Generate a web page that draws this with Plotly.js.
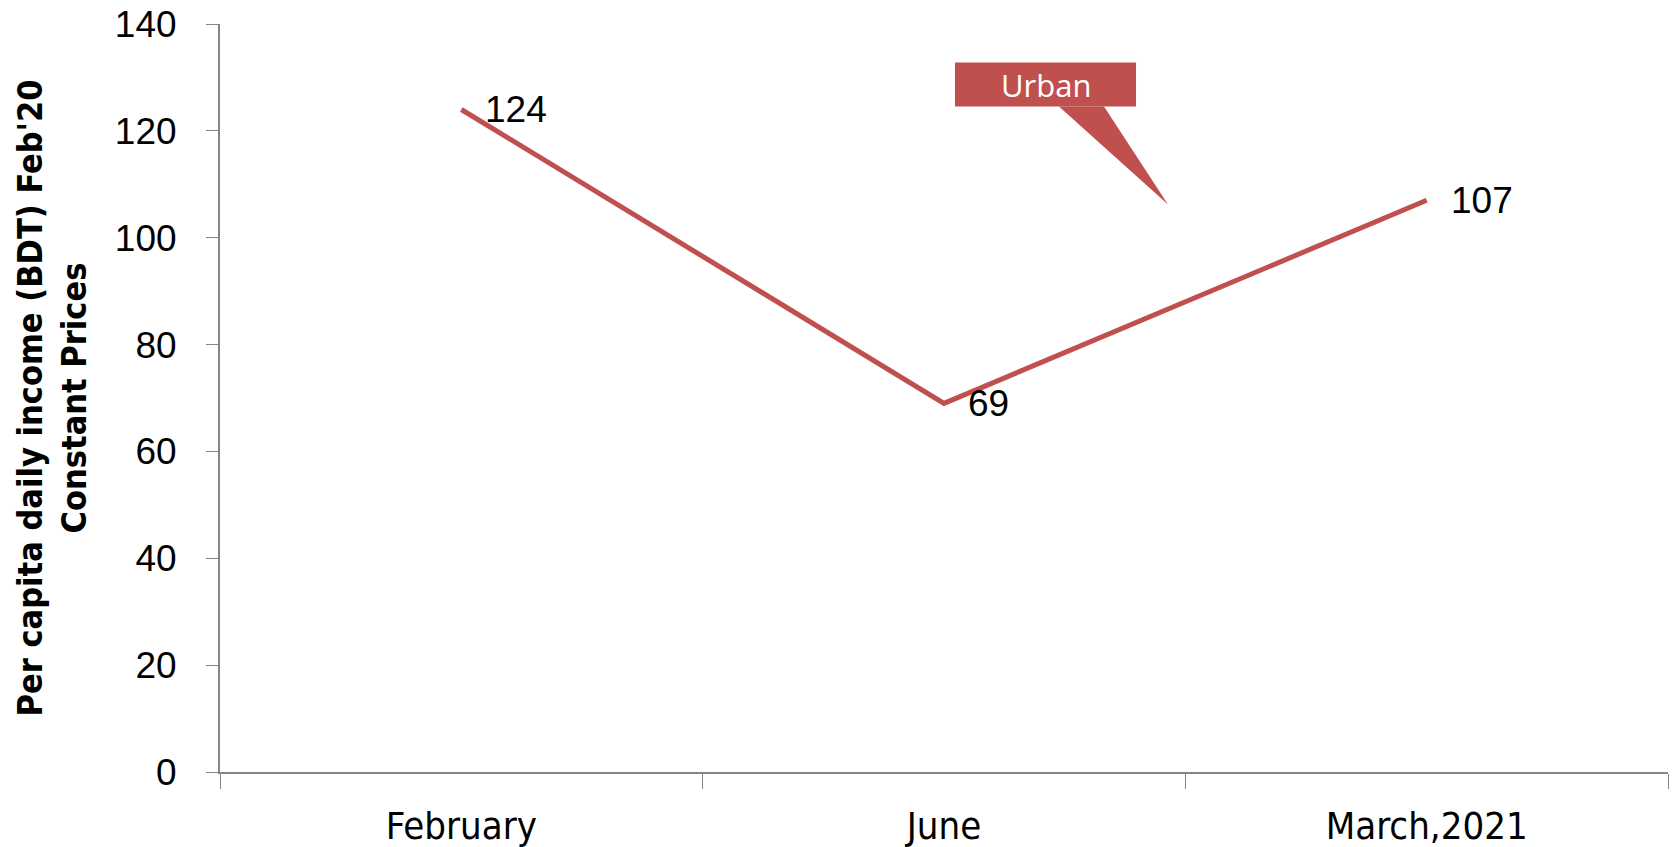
<!DOCTYPE html>
<html>
<head>
<meta charset="utf-8">
<script src="https://cdn.plot.ly/plotly-3.0.1.min.js"></script>
<style>html,body{margin:0;padding:0;background:#fff;}#chart{width:1673px;height:847px;}</style>
</head>
<body>
<div id="chart"></div>
<script>
const categories = ["February", "June", "March,2021"];
const urbanValues = [124, 69, 107];
const valueLabels = ["124", "69", "107"];
const yTicks = [0, 20, 40, 60, 80, 100, 120, 140];
const seriesName = "Urban";

const lineColor = "#C0504D";
const axisColor = "#868686";
const condensed = "DejaVu Sans Condensed, Liberation Sans Narrow, sans-serif";

const trace = {
  x: categories,
  y: urbanValues,
  type: "scatter",
  mode: "lines",
  name: seriesName,
  line: {color: lineColor, width: 5},
  hoverinfo: "x+y"
};

const annotations = categories.map((c, i) => ({
  x: c, y: urbanValues[i], xref: "x", yref: "y",
  text: valueLabels[i], showarrow: false,
  xanchor: "left", yanchor: "middle", xshift: 22,
  font: {family: "Liberation Sans, Arial, sans-serif", size: 37, color: "#000"}
}));
annotations.push({
  x: 0.5701, y: 0.9191, xref: "paper", yref: "paper",
  text: seriesName, showarrow: false, xanchor: "center", yanchor: "middle",
  font: {family: "Open Sans, sans-serif", size: 31, color: "#fff"}
});

const layout = {
  width: 1673, height: 847,
  margin: {l: 220, r: 5, t: 24, b: 75},
  paper_bgcolor: "#fff", plot_bgcolor: "#fff",
  showlegend: false,
  xaxis: {
    type: "category",
    showline: true, linecolor: axisColor, linewidth: 2,
    ticks: "outside", tickson: "boundaries", ticklen: 15, tickcolor: axisColor, tickwidth: 1,
    showgrid: false, zeroline: false,
    tickfont: {family: condensed, size: 38, color: "#000"},
    ticklabelstandoff: 19,
    range: [-0.5, 2.5]
  },
  yaxis: {
    range: [0, 140], tickvals: yTicks,
    showline: true, linecolor: axisColor, linewidth: 2,
    ticks: "outside", ticklen: 12, tickcolor: axisColor, tickwidth: 1,
    showgrid: false, zeroline: false,
    tickfont: {family: "Liberation Sans, Arial, sans-serif", size: 37, color: "#000"},
    ticklabelstandoff: 22,
    title: {
      text: "<b>Per capita daily income (BDT) Feb'20<br>Constant Prices</b>",
      font: {family: condensed, size: 34, color: "#000"},
      standoff: 18
    }
  },
  shapes: [
    {type: "rect", xref: "paper", yref: "paper", x0: 0.5076, x1: 0.6326, y0: 0.8897, y1: 0.9485,
     fillcolor: lineColor, line: {width: 0}},
    {type: "path", xref: "paper", yref: "paper",
     path: "M 0.5794,0.8897 L 0.6105,0.8897 L 0.6547,0.7587 Z",
     fillcolor: lineColor, line: {width: 0}}
  ],
  annotations: annotations
};

Plotly.newPlot("chart", [trace], layout, {displayModeBar: false});
</script>
</body>
</html>
